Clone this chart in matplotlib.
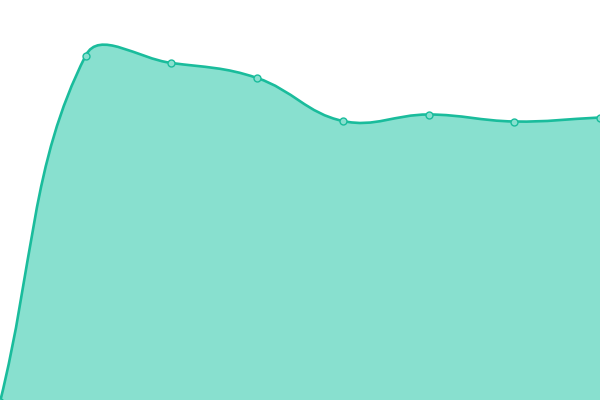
import numpy as np
import matplotlib
matplotlib.use("Agg")
import matplotlib.pyplot as plt
from matplotlib.path import Path
from matplotlib.patches import PathPatch

# values (y axis runs 0..400)
labels = ["0", "1", "2", "3", "4", "5", "6", "7"]
values = [-2, 344.5, 337, 322, 279, 285.5, 278.5, 282.5]

line_color = "#1abc9c"
fill_color = "#88e0cf"
tension = 0.4

fig = plt.figure(figsize=(6, 4), dpi=100)
ax = fig.add_axes([0, 0, 1, 1])
n = len(values)
ax.set_xlim(0, n - 1)
ax.set_ylim(0, 400)
ax.axis("off")

# work in pixel-like units so the spline behaves like a chart.js curve
xs = np.arange(n, dtype=float)
pts = ax.transData.transform(np.column_stack([xs, values]))

def control_points(p):
  cps = []
  for i in range(len(p)):
    prev = p[max(i - 1, 0)]
    cur = p[i]
    nxt = p[min(i + 1, len(p) - 1)]
    d01 = np.hypot(*(cur - prev))
    d12 = np.hypot(*(nxt - cur))
    tot = d01 + d12 if d01 + d12 else 1
    fa = tension * d01 / tot
    fb = tension * d12 / tot
    cps.append((cur - fa * (nxt - prev), cur + fb * (nxt - prev)))
  return cps

cps = control_points(pts)
verts = [pts[0]]
codes = [Path.MOVETO]
for i in range(n - 1):
  verts += [cps[i][1], cps[i + 1][0], pts[i + 1]]
  codes += [Path.CURVE4] * 3

inv = ax.transData.inverted()
curve = inv.transform(np.array(verts))

fill_verts = np.vstack([curve, [[n - 1, 0], [0, 0], curve[0]]])
fill_codes = codes + [Path.LINETO, Path.LINETO, Path.CLOSEPOLY]
ax.add_patch(PathPatch(Path(fill_verts, fill_codes), facecolor=fill_color, edgecolor="none"))
ax.add_patch(PathPatch(Path(curve, codes), facecolor="none", edgecolor=line_color, lw=1.9))

ax.plot(xs, values, "o", ms=5, mfc=fill_color, mec=line_color, mew=1, clip_on=False, zorder=5)

fig.savefig("out.png", dpi=100)
